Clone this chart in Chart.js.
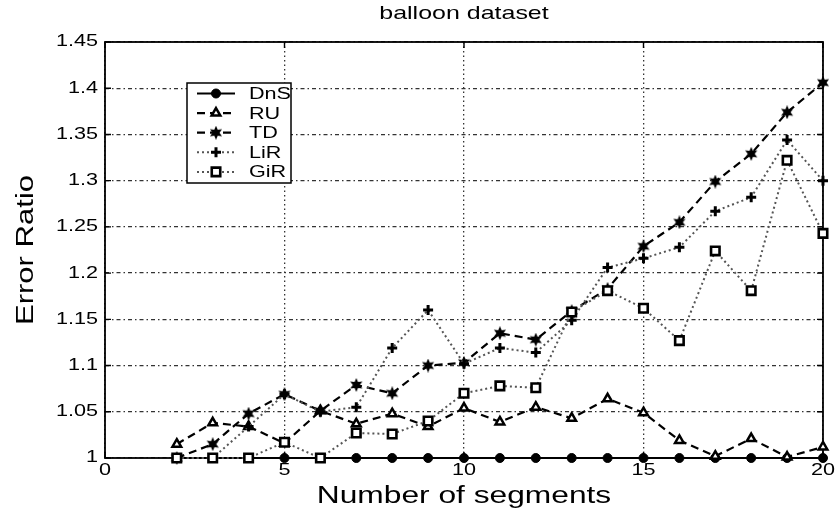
<!DOCTYPE html>
<html>
<head>
<meta charset="utf-8">
<script src="https://cdn.jsdelivr.net/npm/chart.js@4.4.1/dist/chart.umd.min.js"></script>
<style>
  html, body { margin: 0; padding: 0; background: #fff; }
  canvas { display: block; }
</style>
</head>
<body>
<canvas id="chart" width="838" height="508" style="width:838px;height:508px"></canvas>
<script>
// Number of segments on the x axis
const SEGMENTS = [2, 3, 4, 5, 6, 7, 8, 9, 10, 11, 12, 13, 14, 15, 16, 17, 18, 19, 20];

// Error ratio per method
const DNS = [1, 1, 1, 1, 1, 1, 1, 1, 1, 1, 1, 1, 1, 1, 1, 1, 1, 1, 1];
const RU  = [1.015, 1.038, 1.034, 1.016, 1.051, 1.037, 1.048, 1.034, 1.054, 1.039,
             1.055, 1.043, 1.064, 1.049, 1.019, 1.002, 1.021, 1.001, 1.012];
const TD  = [1.0, 1.015, 1.048, 1.069, 1.051, 1.079, 1.070, 1.100, 1.103, 1.135,
             1.128, 1.159, 1.183, 1.229, 1.255, 1.299, 1.329, 1.374, 1.406];
const LIR = [1.0, 1.0, 1.034, 1.069, 1.050, 1.055, 1.119, 1.160, 1.102, 1.119,
             1.114, 1.149, 1.206, 1.216, 1.228, 1.267, 1.282, 1.344, 1.300];
const GIR = [1.0, 1.0, 1.0, 1.017, 1.0, 1.027, 1.026, 1.040, 1.070, 1.078,
             1.076, 1.158, 1.181, 1.162, 1.127, 1.224, 1.181, 1.322, 1.243];

const SERIES_NAMES = ['DnS', 'RU', 'TD', 'LiR', 'GiR'];
const X_TICKS = [0, 5, 10, 15, 20];
const Y_TICKS = [1, 1.05, 1.1, 1.15, 1.2, 1.25, 1.3, 1.35, 1.4, 1.45];

const FONT = '"Liberation Sans", Arial, Helvetica, sans-serif';
const TEXT_STRETCH = 1.35;   // wide lettering along the reading direction

const canvas = document.getElementById('chart');
const ctx = canvas.getContext('2d');

// Widen every glyph run horizontally in its own frame (works for rotated titles too)
(function widenText(g) {
  const fill = g.fillText.bind(g);
  const measure = g.measureText.bind(g);
  g.fillText = function (text, x, y) {
    this.save();
    this.translate(x, y);
    this.scale(TEXT_STRETCH, 1);
    fill(text, 0, 0);
    this.restore();
  };
  g.measureText = function (text) {
    const m = measure(text);
    return {
      width: m.width * TEXT_STRETCH,
      actualBoundingBoxAscent: m.actualBoundingBoxAscent,
      actualBoundingBoxDescent: m.actualBoundingBoxDescent,
      actualBoundingBoxLeft: m.actualBoundingBoxLeft * TEXT_STRETCH,
      actualBoundingBoxRight: m.actualBoundingBoxRight * TEXT_STRETCH
    };
  };
})(ctx);

// Filled six-pointed star marker
function hexagram(size) {
  const c = document.createElement('canvas');
  c.width = size; c.height = size;
  const g = c.getContext('2d');
  const r = size / 2, ri = r * 0.5;
  g.beginPath();
  for (let k = 0; k < 12; k++) {
    const a = -Math.PI / 2 + k * Math.PI / 6;
    const rr = k % 2 ? ri : r;
    g.lineTo(r + rr * Math.cos(a), r + rr * Math.sin(a));
  }
  g.closePath();
  g.fillStyle = '#000';
  g.fill();
  return c;
}
const STAR = hexagram(14);

const toPoints = ys => SEGMENTS.map((x, i) => ({ x, y: ys[i] }));

const DASHED = [8, 5];
const DOTTED = [2, 3];

const datasets = [
  { label: SERIES_NAMES[0], data: toPoints(DNS), borderColor: '#000', borderWidth: 2.2, borderDash: [],
    pointStyle: 'circle', pointRadius: 4.5, pointBackgroundColor: '#000', pointBorderColor: '#000', pointBorderWidth: 1 },
  { label: SERIES_NAMES[1], data: toPoints(RU), borderColor: '#000', borderWidth: 2.2, borderDash: DASHED,
    pointStyle: 'triangle', pointRadius: 5, pointBackgroundColor: '#fff', pointBorderColor: '#000', pointBorderWidth: 2.5 },
  { label: SERIES_NAMES[2], data: toPoints(TD), borderColor: '#000', borderWidth: 2.2, borderDash: DASHED,
    pointStyle: STAR, pointRadius: 7, pointBackgroundColor: '#000', pointBorderColor: '#000', pointBorderWidth: 0 },
  { label: SERIES_NAMES[3], data: toPoints(LIR), borderColor: '#555', borderWidth: 2, borderDash: DOTTED,
    pointStyle: 'cross', pointRadius: 5, pointBackgroundColor: '#000', pointBorderColor: '#000', pointBorderWidth: 3 },
  { label: SERIES_NAMES[4], data: toPoints(GIR), borderColor: '#555', borderWidth: 2, borderDash: DOTTED,
    pointStyle: 'rect', pointRadius: 6, pointBackgroundColor: '#fff', pointBorderColor: '#000', pointBorderWidth: 2.6 }
].map((d, i, all) => Object.assign(d, { order: all.length - 1 - i, tension: 0, clip: false, fill: false }));

// Axes box with inward tick marks on all four sides
const frame = {
  id: 'frame',
  beforeDatasetsDraw(chart) {
    const { left, right, top, bottom } = chart.chartArea;
    const g = chart.ctx;
    const xs = chart.scales.x, ys = chart.scales.y;
    const TL = 6;
    g.save();
    g.setLineDash([]);
    g.strokeStyle = '#000';
    g.lineWidth = 1.8;
    g.strokeRect(left, top, right - left, bottom - top);
    g.lineWidth = 1.4;
    g.beginPath();
    X_TICKS.forEach(v => {
      const px = xs.getPixelForValue(v);
      g.moveTo(px, bottom); g.lineTo(px, bottom - TL);
      g.moveTo(px, top); g.lineTo(px, top + TL);
    });
    Y_TICKS.forEach(v => {
      const py = ys.getPixelForValue(v);
      g.moveTo(left, py); g.lineTo(left + TL, py);
      g.moveTo(right, py); g.lineTo(right - TL, py);
    });
    g.stroke();
    g.restore();
  }
};

// Boxed key in the upper left of the plot
const keyBox = {
  id: 'keyBox',
  afterDatasetsDraw(chart) {
    const g = chart.ctx;
    const left = 187, top = 83, w = 104, h = 100, rowGap = 19.6;
    g.save();
    g.fillStyle = '#fff';
    g.fillRect(left, top, w, h);
    g.strokeStyle = '#000';
    g.lineWidth = 1.5;
    g.setLineDash([]);
    g.strokeRect(left, top, w, h);
    chart.data.datasets.forEach((ds, i) => {
      const y = top + 10.5 + i * rowGap;
      g.save();
      g.setLineDash(ds.borderDash);
      g.strokeStyle = ds.borderColor;
      g.lineWidth = ds.borderWidth;
      g.beginPath();
      g.moveTo(left + 10, y);
      g.lineTo(left + 48, y);
      g.stroke();
      g.setLineDash([]);
      g.fillStyle = ds.pointBackgroundColor;
      g.strokeStyle = ds.pointBorderColor;
      g.lineWidth = ds.pointBorderWidth;
      Chart.helpers.drawPoint(g, {
        pointStyle: ds.pointStyle, radius: ds.pointRadius,
        borderWidth: ds.pointBorderWidth, rotation: 0
      }, left + 29, y);
      g.restore();
      g.fillStyle = '#000';
      g.font = '16px ' + FONT;
      g.textAlign = 'left';
      g.textBaseline = 'middle';
      g.fillText(ds.label, left + 62, y + 1);
    });
    g.restore();
  }
};

new Chart(ctx, {
  type: 'line',
  data: { datasets },
  options: {
    responsive: false,
    animation: false,
    events: [],
    devicePixelRatio: 1,
    layout: { padding: { left: 0, right: 15, top: 0, bottom: 0 } },
    plugins: {
      legend: { display: false },
      tooltip: { enabled: false },
      title: {
        display: true,
        fullSize: false,
        text: 'balloon dataset',
        color: '#000',
        font: { family: FONT, size: 18.5, weight: 'normal', lineHeight: 1 },
        padding: { top: 5, bottom: 18.5 }
      }
    },
    scales: {
      x: {
        type: 'linear',
        min: 0, max: 20,
        afterBuildTicks: s => { s.ticks = X_TICKS.map(v => ({ value: v })); },
        afterFit: s => { s.height = 50; },
        ticks: { color: '#000', font: { family: FONT, size: 16 }, padding: 3, maxRotation: 0, autoSkip: false,
                 callback: v => String(v) },
        grid: { color: '#333', lineWidth: 1.3, drawTicks: false },
        border: { display: false, dash: [1.5, 3] },
        title: {
          display: true, text: 'Number of segments', color: '#000',
          font: { family: FONT, size: 23.5, weight: 'normal', lineHeight: 1 },
          padding: { top: 0, bottom: 0 }
        }
      },
      y: {
        min: 1, max: 1.45,
        afterBuildTicks: s => { s.ticks = Y_TICKS.map(v => ({ value: v })); },
        afterFit: s => { s.width = 105; },
        ticks: { color: '#000', font: { family: FONT, size: 16 }, padding: 7, autoSkip: false,
                 callback: v => String(Number(v.toFixed(2))) },
        grid: { color: '#333', lineWidth: 1.3, drawTicks: false },
        border: { display: false, dash: [4, 3, 1.5, 3] },
        title: {
          display: true, text: 'Error Ratio', color: '#000',
          font: { family: FONT, size: 23, weight: 'normal', lineHeight: 1.2 },
          padding: { top: 13, bottom: 0 }
        }
      }
    }
  },
  plugins: [frame, keyBox]
});
</script>
</body>
</html>
